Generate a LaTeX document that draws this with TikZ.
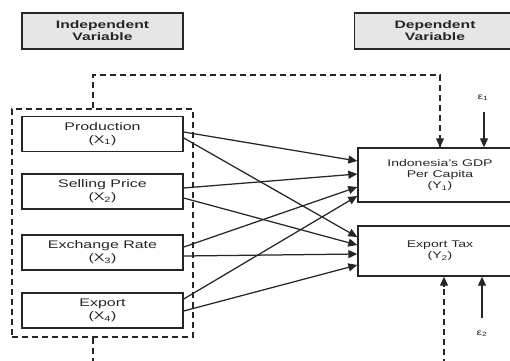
\documentclass[tikz,border=0pt]{standalone}
\usepackage{fontspec}
\setmainfont[FakeStretch=1.45]{Liberation Sans}
\usetikzlibrary{arrows.meta}
\definecolor{txt}{HTML}{262626}
\definecolor{hdfill}{HTML}{E6E6E6}
\tikzset{
  hdbox/.style={draw=black!85, line width=1.7pt, fill=hdfill, minimum width=161pt, minimum height=36pt,
    align=center, inner sep=0pt, text=txt, font=\fontsize{10.8}{12}\selectfont\bfseries},
  xbox/.style={draw=black!85, line width=1.4pt, minimum width=161pt, minimum height=35pt,
    align=center, inner sep=0pt, text=txt, font=\fontsize{11}{13}\selectfont},
  ybox/.style={draw=black!85, line width=1.4pt, minimum width=164pt,
    align=center, inner sep=0pt, text=txt, font=\fontsize{9.7}{11}\selectfont},
  grpbox/.style={draw=black!85, line width=1.5pt, dash pattern=on 6pt off 4pt, minimum width=181pt, minimum height=228pt},
  dline/.style={draw=black!85, line width=1.5pt, dash pattern=on 6pt off 4pt},
  conn/.style={draw=black!85, line width=1.25pt, -{Triangle[length=9pt,width=8pt]}},
  eps/.style={text=txt, font=\fontsize{8.5}{9}\selectfont, inner sep=0pt}
}
\begin{document}
\begin{tikzpicture}[x=1pt,y=-1pt]
\clip (0,0) rectangle (510,360);
\fill[white] (0,0) rectangle (510,360);
% headings
\node[hdbox] (ind) at (102.5,31) {Independent\\Variable};
\node[hdbox] (dep) at (435,31) {Dependent\\Variable};
% group box
\node[grpbox] (grp) at (102.5,223) {};
% X boxes
\node[xbox] (x1) at (102.5,134) {Production\\(X\textsubscript{1})};
\node[xbox] (x2) at (102.5,191.5) {Selling Price\\(X\textsubscript{2})};
\node[xbox] (x3) at (102.5,252.5) {Exchange Rate\\(X\textsubscript{3})};
\node[xbox] (x4) at (102.5,310.5) {Export\\(X\textsubscript{4})};
% Y boxes
\node[ybox, minimum height=54pt] (y1) at (440,175) {Indonesia's GDP\\Per Capita\\(Y\textsubscript{1})};
\node[ybox, minimum height=50pt] (y2) at (440,251) {Export Tax\\(Y\textsubscript{2})};
% errors
\node[eps] (e1) at (483,98) {ε\textsubscript{1}};
\node[eps] (e2) at (482,334) {ε\textsubscript{2}};
\coordinate (e1s) at (484,112);
\coordinate (e2s) at (482,318);
\draw[conn] (e1s) -- (e1s |- y1.north);
\draw[conn] (e2s) -- (e2s |- y2.south);
% dashed paths
\coordinate (tl) at (93,75);
\coordinate (tr) at (440,75);
\draw[dline] (grp.north -| tl) -- (tl) -- (tr) -- (y1.north);
\draw[conn] ([yshift=10pt]y1.north) -- (y1.north);
\coordinate (bl) at (93,365);
\coordinate (br) at (444,365);
\draw[dline] (grp.south -| bl) -- (bl);
\draw[dline] (br) -- (br |- y2.south);
\draw[conn] ([yshift=-10pt]br |- y2.south) -- (br |- y2.south);
% connectors
\draw[conn] ([yshift=2pt]x1.east) -- ([yshift=14pt]y1.west);
\draw[conn] ([yshift=-4pt]x1.east) -- ([yshift=14pt]y2.west);
\draw[conn] ([yshift=3.5pt]x2.east) -- ([yshift=1pt]y1.west);
\draw[conn] ([yshift=-6.5pt]x2.east) -- ([yshift=6pt]y2.west);
\draw[conn] ([yshift=5.5pt]x3.east) -- ([yshift=-12pt]y1.west);
\draw[conn] ([yshift=-3.5pt]x3.east) -- ([yshift=-3pt]y2.west);
\draw[conn] ([yshift=11.5pt]x4.east) -- ([yshift=-21pt]y1.west);
\draw[conn] ([yshift=-0.5pt]x4.east) -- ([yshift=-14pt]y2.west);
\end{tikzpicture}
\end{document}
